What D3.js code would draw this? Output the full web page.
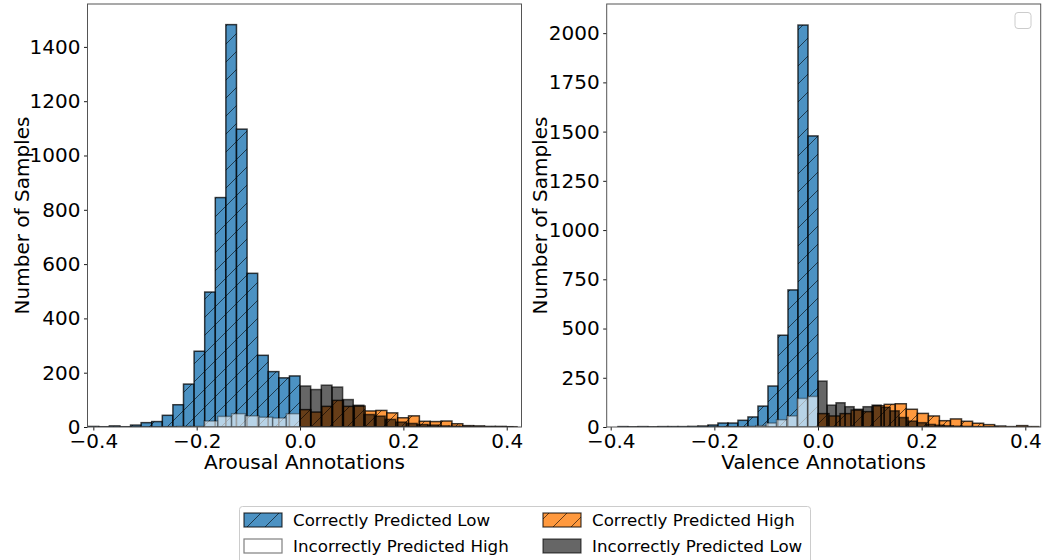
<!DOCTYPE html>
<html><head><meta charset="utf-8">
<script src="https://cdn.jsdelivr.net/npm/d3@7"></script>
<style>body{margin:0;background:#fff} svg{display:block;font-family:"DejaVu Sans",sans-serif}</style>
</head><body><svg id="c" width="1042" height="560"></svg>
<script>
// ---------- data ----------
const seriesNames = ["Correctly Predicted Low", "Incorrectly Predicted High", "Correctly Predicted High", "Incorrectly Predicted Low"];

// Arousal histograms (bin start, bin width, counts)
const arousalLowCorrectStart = -0.41, arousalLowCorrectWidth = 0.0205;
const arousalLowCorrect = [2, 1, 4, 1, 7, 16, 20, 43, 82, 158, 279, 497, 845, 1482, 1097, 566, 264, 204, 181, 188];
const arousalHighIncorrectStart = -0.265, arousalHighIncorrectWidth = 0.0265;
const arousalHighIncorrect = [1, 2, 2, 22, 39, 49, 41, 36, 33, 49];
const arousalHighCorrectStart = 0.0, arousalHighCorrectWidth = 0.021;
const arousalHighCorrect = [64, 55, 76, 98, 76, 77, 59, 61, 52, 34, 41, 21, 20, 22, 12, 5, 4, 2, 2, 1];
const arousalLowIncorrectStart = 0.0, arousalLowIncorrectWidth = 0.0206;
const arousalLowIncorrect = [151, 138, 154, 147, 101, 80, 46, 40, 28, 18, 13, 9, 7, 4, 3, 2, 1, 1, 1, 1];

// Valence histograms
const valenceLowCorrectStart = -0.386, valenceLowCorrectWidth = 0.0193;
const valenceLowCorrect = [2, 1, 2, 1, 2, 2, 2, 3, 5, 10, 20, 20, 34, 51, 106, 208, 466, 696, 2041, 1478];
const valenceHighIncorrectStart = -0.2, valenceHighIncorrectWidth = 0.02;
const valenceHighIncorrect = [1, 1, 1, 3, 7, 20, 37, 56, 145, 155];
const valenceHighCorrectStart = 0.0, valenceHighCorrectWidth = 0.0213;
const valenceHighCorrect = [68, 56, 68, 86, 78, 108, 115, 118, 90, 69, 56, 32, 41, 29, 19, 12, 5, 2, 7, 2];
const valenceLowIncorrectStart = 0.0, valenceLowIncorrectWidth = 0.0174;
const valenceLowIncorrect = [233, 111, 123, 103, 90, 103, 111, 100, 82, 48, 30, 22, 13, 9, 6, 4, 3, 2, 1, 1];

const xTicks = [-0.4, -0.2, 0.0, 0.2, 0.4];
const arousalYTicks = [0, 200, 400, 600, 800, 1000, 1200, 1400];
const valenceYTicks = [0, 250, 500, 750, 1000, 1250, 1500, 1750, 2000];
const xLabels = ["Arousal Annotations", "Valence Annotations"];
const yLabel = "Number of Samples";

// ---------- styles ----------
const styles = {
  "Correctly Predicted Low":   {fill: "#1f77b4", alpha: 0.8, hatch: true,  edge: 0.75},
  "Incorrectly Predicted High":{fill: "#ffffff", alpha: 0.6, hatch: false, edge: 0.35},
  "Correctly Predicted High":  {fill: "#ff7f0e", alpha: 0.8, hatch: true,  edge: 0.75},
  "Incorrectly Predicted Low": {fill: "#000000", alpha: 0.6, hatch: false, edge: 0.65}
};

const svg = d3.select("#c");
const defs = svg.append("defs");
const pat = defs.append("pattern").attr("id", "hatch").attr("patternUnits", "userSpaceOnUse")
  .attr("width", 18).attr("height", 18);
pat.append("path").attr("d", "M0,18 L18,0 M-3,3 L3,-3 M15,21 L21,15")
  .attr("stroke", "#000").attr("stroke-opacity", 0.6).attr("stroke-width", 1);

const FS = 20;

function drawPanel(cfg, idx) {
  const x = d3.scaleLinear().domain(cfg.xDomain).range([cfg.left, cfg.right]);
  const y = d3.scaleLinear().domain([0, cfg.yMax]).range([cfg.bottom, cfg.top]);
  const g = svg.append("g");
  const cid = "clip" + idx;
  defs.append("clipPath").attr("id", cid).append("rect")
    .attr("x", cfg.left).attr("y", cfg.top).attr("width", cfg.right - cfg.left).attr("height", cfg.bottom - cfg.top);
  const plot = g.append("g").attr("clip-path", `url(#${cid})`);

  cfg.series.forEach(s => {
    const st = styles[s.name];
    const bins = s.counts.map((c, i) => ({x0: s.start + i * s.width, x1: s.start + (i + 1) * s.width, c}))
      .filter(b => b.c > 0);
    const sg = plot.append("g");
    bins.forEach(b => {
      const rx = x(b.x0), rw = x(b.x1) - x(b.x0), ry = y(b.c), rh = y(0) - y(b.c);
      sg.append("rect").attr("x", rx).attr("y", ry).attr("width", rw).attr("height", rh)
        .attr("fill", st.fill).attr("fill-opacity", st.alpha);
      if (st.hatch) {
        sg.append("rect").attr("x", rx).attr("y", ry).attr("width", rw).attr("height", rh)
          .attr("fill", "url(#hatch)");
      }
      sg.append("rect").attr("x", rx).attr("y", ry).attr("width", rw).attr("height", rh)
        .attr("fill", "none").attr("stroke", "#000").attr("stroke-opacity", st.edge).attr("stroke-width", 1.5);
    });
  });

  // axes
  const ax = g.append("g").attr("transform", `translate(0,${cfg.bottom})`)
    .call(d3.axisBottom(x).tickValues(xTicks).tickFormat(d3.format(".1f")).tickSize(3.5).tickPadding(3.5).tickSizeOuter(0));
  const ay = g.append("g").attr("transform", `translate(${cfg.left},0)`)
    .call(d3.axisLeft(y).tickValues(cfg.yTicks).tickFormat(d3.format("d")).tickSize(3.5).tickPadding(3.5).tickSizeOuter(0));
  [ax, ay].forEach(a => {
    a.select(".domain").remove();
    a.selectAll("text").attr("font-size", FS).attr("fill", "#000").attr("font-family", "DejaVu Sans");
    a.selectAll("line").attr("stroke", "#000").attr("stroke-width", 0.9);
  });
  // frame
  g.append("rect").attr("x", cfg.left).attr("y", cfg.top).attr("width", cfg.right - cfg.left)
    .attr("height", cfg.bottom - cfg.top).attr("fill", "none").attr("stroke", "#555").attr("stroke-width", 1);

  g.append("text").attr("x", (cfg.left + cfg.right) / 2).attr("y", 469).attr("text-anchor", "middle")
    .attr("font-size", FS).text(cfg.xLabel);
  g.append("text").attr("transform", `translate(${cfg.yLabelX},${(cfg.top + cfg.bottom) / 2}) rotate(-90)`)
    .attr("text-anchor", "middle").attr("font-size", FS).text(yLabel);
}

drawPanel({
  left: 87.5, right: 521.5, top: 4, bottom: 427,
  xDomain: [-0.4113, 0.4286], yMax: 1558, yTicks: arousalYTicks, xLabel: xLabels[0], yLabelX: 29,
  series: [
    {name: seriesNames[0], start: arousalLowCorrectStart, width: arousalLowCorrectWidth, counts: arousalLowCorrect},
    {name: seriesNames[1], start: arousalHighIncorrectStart, width: arousalHighIncorrectWidth, counts: arousalHighIncorrect},
    {name: seriesNames[2], start: arousalHighCorrectStart, width: arousalHighCorrectWidth, counts: arousalHighCorrect},
    {name: seriesNames[3], start: arousalLowIncorrectStart, width: arousalLowIncorrectWidth, counts: arousalLowIncorrect}
  ]
}, 0);

drawPanel({
  left: 606.7, right: 1040.7, top: 4, bottom: 427,
  xDomain: [-0.4077, 0.4297], yMax: 2148, yTicks: valenceYTicks, xLabel: xLabels[1], yLabelX: 547,
  series: [
    {name: seriesNames[0], start: valenceLowCorrectStart, width: valenceLowCorrectWidth, counts: valenceLowCorrect},
    {name: seriesNames[1], start: valenceHighIncorrectStart, width: valenceHighIncorrectWidth, counts: valenceHighIncorrect},
    {name: seriesNames[2], start: valenceHighCorrectStart, width: valenceHighCorrectWidth, counts: valenceHighCorrect},
    {name: seriesNames[3], start: valenceLowIncorrectStart, width: valenceLowIncorrectWidth, counts: valenceLowIncorrect}
  ]
}, 1);

// empty legend box in the right panel
svg.append("rect").attr("x", 1015).attr("y", 12.5).attr("width", 16).attr("height", 16).attr("rx", 3)
  .attr("fill", "#fff").attr("fill-opacity", 0.8).attr("stroke", "#ccc").attr("stroke-width", 1);

// figure legend
const lg = svg.append("g");
lg.append("rect").attr("x", 239.5).attr("y", 506.5).attr("width", 571).attr("height", 60).attr("rx", 3)
  .attr("fill", "#fff").attr("fill-opacity", 0.8).attr("stroke", "#ccc").attr("stroke-width", 1);
const legendItems = [
  {name: seriesNames[0], col: 0, row: 0},
  {name: seriesNames[1], col: 0, row: 1},
  {name: seriesNames[2], col: 1, row: 0},
  {name: seriesNames[3], col: 1, row: 1}
];
const colX = [244, 543], rowY = [520, 546];
legendItems.forEach(it => {
  const st = styles[it.name];
  const px = colX[it.col], py = rowY[it.row] - 7;
  lg.append("rect").attr("x", px).attr("y", py).attr("width", 38).attr("height", 14)
    .attr("fill", st.fill).attr("fill-opacity", st.alpha);
  if (st.hatch) lg.append("rect").attr("x", px).attr("y", py).attr("width", 38).attr("height", 14).attr("fill", "url(#hatch)");
  lg.append("rect").attr("x", px).attr("y", py).attr("width", 38).attr("height", 14)
    .attr("fill", "none").attr("stroke", "#000").attr("stroke-opacity", Math.max(st.edge, 0.5)).attr("stroke-width", 1.2);
  lg.append("text").attr("x", px + 49).attr("y", rowY[it.row]).attr("dy", "0.36em")
    .attr("font-size", 16.7).text(it.name);
});
</script></body></html>
